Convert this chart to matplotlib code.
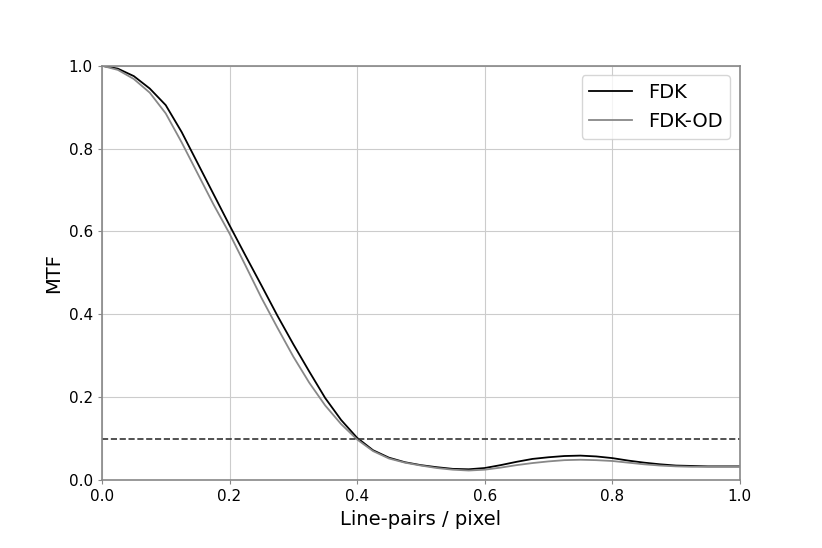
import matplotlib
matplotlib.use('Agg')
import matplotlib.pyplot as plt

freq = [0.0, 0.025, 0.05, 0.075, 0.1, 0.125, 0.15, 0.175, 0.2, 0.225,
        0.25, 0.275, 0.3, 0.325, 0.35, 0.375, 0.4, 0.425, 0.45, 0.475,
        0.5, 0.525, 0.55, 0.575, 0.6, 0.625, 0.65, 0.675, 0.7, 0.725,
        0.75, 0.775, 0.8, 0.825, 0.85, 0.875, 0.9, 0.925, 0.95, 0.975, 1.0]

mtf_fdk = [1.0, 0.993, 0.975, 0.945, 0.905, 0.84, 0.765, 0.69, 0.615, 0.542,
           0.47, 0.397, 0.328, 0.262, 0.198, 0.145, 0.102, 0.072, 0.054, 0.043,
           0.036, 0.031, 0.027, 0.026, 0.029, 0.036, 0.044, 0.051, 0.055, 0.058,
           0.059, 0.057, 0.053, 0.047, 0.042, 0.038, 0.035, 0.034, 0.033, 0.033, 0.033]

mtf_fdk_od = [1.0, 0.99, 0.968, 0.935, 0.885, 0.815, 0.74, 0.665, 0.595, 0.518,
              0.44, 0.368, 0.298, 0.235, 0.18, 0.135, 0.098, 0.07, 0.052, 0.042,
              0.035, 0.029, 0.025, 0.023, 0.025, 0.030, 0.036, 0.041, 0.045, 0.048,
              0.049, 0.048, 0.046, 0.042, 0.038, 0.035, 0.033, 0.032, 0.032, 0.032, 0.032]

threshold = 0.1

fig = plt.figure(figsize=(8.22, 5.48), dpi=100)
ax = fig.add_axes([0.124, 0.124, 0.776, 0.756])

ax.plot(freq, mtf_fdk, color='black', linewidth=1.3, label='FDK')
ax.plot(freq, mtf_fdk_od, color='#888888', linewidth=1.3, label='FDK-OD')
ax.axhline(threshold, color='#333333', linestyle='--', linewidth=1.2)

ax.set_xlim(0, 1)
ax.set_ylim(0, 1)
ax.set_xticks([0, 0.2, 0.4, 0.6, 0.8, 1.0])
ax.set_yticks([0, 0.2, 0.4, 0.6, 0.8, 1.0])
ax.grid(True, color='#cccccc', linewidth=0.8)
for s in ax.spines.values():
    s.set_color('#888888')
    s.set_linewidth(1.2)
ax.tick_params(length=3, color='#888888', labelsize=11)
ax.set_xlabel('Line-pairs / pixel', fontsize=14)
ax.set_ylabel('MTF', fontsize=14)
ax.legend(fontsize=14, loc='upper right', handlelength=2.2)

plt.savefig('out.png')
